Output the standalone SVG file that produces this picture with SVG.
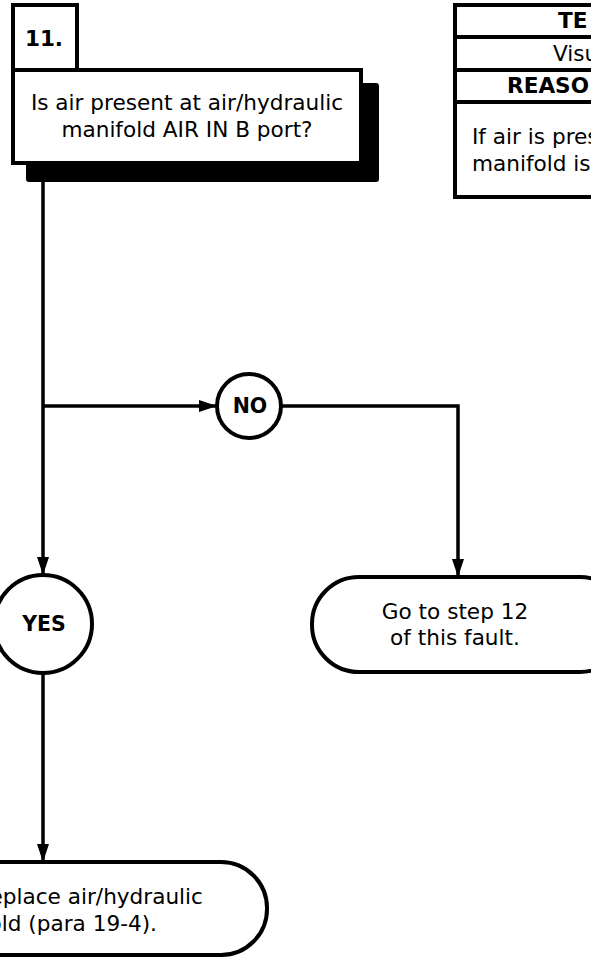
<svg xmlns="http://www.w3.org/2000/svg" width="591" height="958" viewBox="0 0 591 958">
<style>
.box{fill:#fff;stroke:#000;stroke-width:4}
.ln{fill:none;stroke:#000;stroke-width:3.5}
.t{font-family:"DejaVu Sans",Verdana,sans-serif;font-size:21.6px;fill:#000}
.b{font-family:"DejaVu Sans",Verdana,sans-serif;font-size:20.5px;font-weight:bold;fill:#000}
.c{text-anchor:middle}
</style>
<defs>
<marker id="arr" markerWidth="19" markerHeight="14" refX="18" refY="7" orient="auto" markerUnits="userSpaceOnUse">
<path d="M0,1 L18,7 L0,13 Z" fill="#000"/>
</marker>
</defs>
<g id="connectors">
<path class="ln" d="M43,182 V575" marker-end="url(#arr)"/>
<path class="ln" d="M43,406 H217" marker-end="url(#arr)"/>
<path class="ln" d="M281,406 H458 V577" marker-end="url(#arr)"/>
<path class="ln" d="M43,673 V862" marker-end="url(#arr)"/>
</g>
<g id="step-number">
<rect class="box" x="13" y="5" width="64" height="65"/>
<text class="b" x="44" y="46" style="font-size:21.5px" text-anchor="middle">11.</text>
</g>
<g id="question">
<rect x="26" y="83" width="353" height="99" rx="3" fill="#000"/>
<rect class="box" x="13" y="70" width="348" height="93"/>
<text class="t c" x="187" y="110">Is air present at air/hydraulic</text>
<text class="t c" x="187" y="137">manifold AIR IN B port?</text>
</g>
<g id="table">
<rect class="box" x="455" y="5" width="200" height="192"/>
<path class="ln" d="M455,37 H600 M455,70 H600 M455,102 H600" style="stroke-width:4"/>
<text class="t" x="558" y="28" style="font-weight:bold">TE</text>
<text class="t" x="553" y="61">Visu</text>
<text class="t" x="507" y="93" style="font-weight:bold">REASO</text>
<text class="t" x="472" y="144">If air is pres</text>
<text class="t" x="472" y="171">manifold is</text>
</g>
<g id="no">
<circle class="box" cx="249" cy="406" r="32"/>
<text class="b c" x="250" y="413">NO</text>
</g>
<g id="yes">
<circle class="box" cx="43" cy="624" r="49"/>
<text class="b c" x="44" y="631">YES</text>
</g>
<g id="step12">
<rect class="box" x="312" y="577" width="315" height="95" rx="47"/>
<text class="t c" x="455" y="619">Go to step 12</text>
<text class="t c" x="455" y="645">of this fault.</text>
</g>
<g id="replace">
<rect class="box" x="-120" y="862" width="387" height="93" rx="46"/>
<text class="t" x="203" y="904" text-anchor="end">Replace air/hydraulic</text>
<text class="t" x="157" y="931" text-anchor="end">manifold (para 19-4).</text>
</g>
</svg>
